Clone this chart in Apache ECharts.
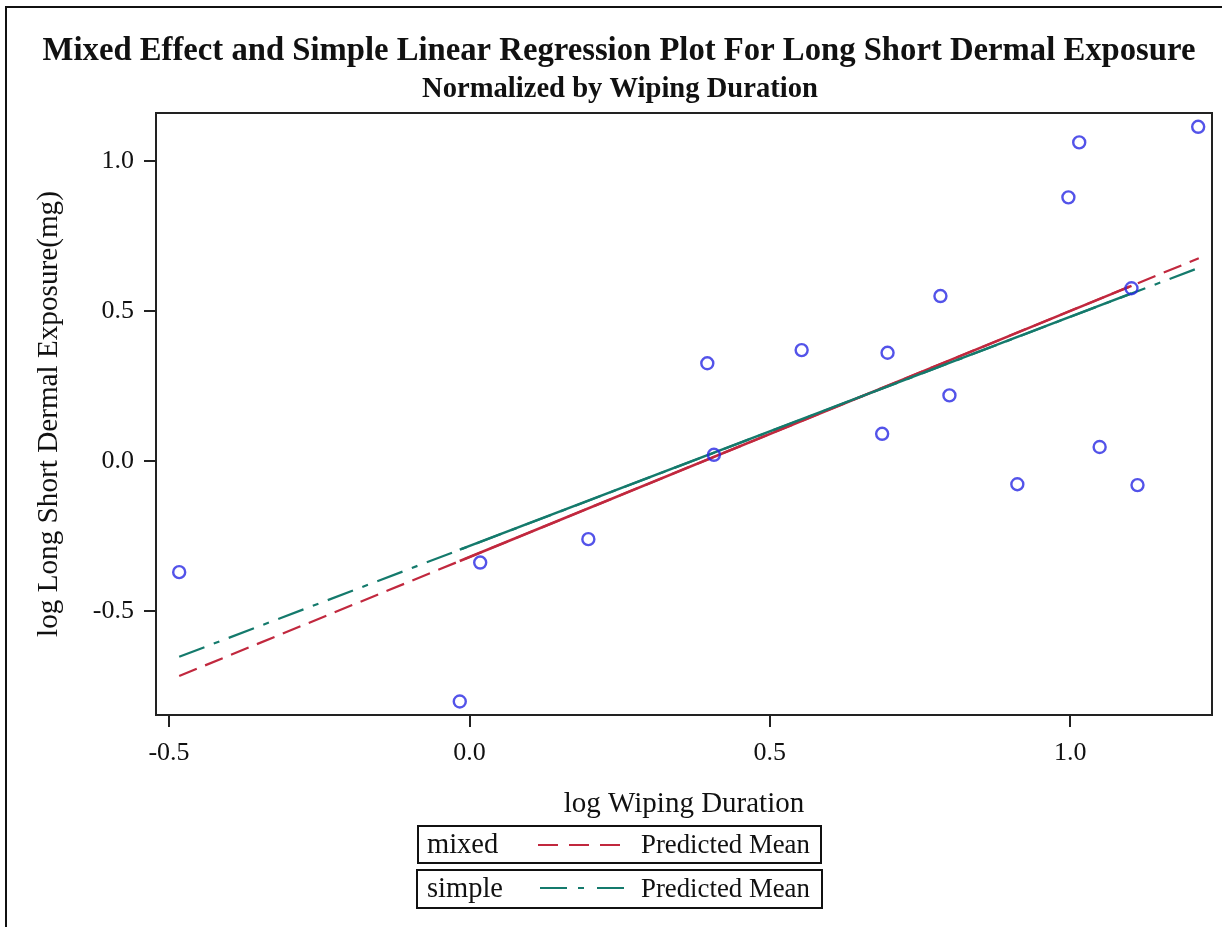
<!DOCTYPE html>
<html>
<head>
<meta charset="utf-8">
<script src="https://cdn.jsdelivr.net/npm/echarts@6/dist/echarts.min.js"></script>
<style>
html,body{margin:0;padding:0;background:#fff;}
#chart{width:1222px;height:927px;}
</style>
</head>
<body>
<div id="chart"></div>
<script>
// ---- data ----
const pointX = [-0.483, -0.016, 0.018, 0.198, 0.396, 0.407, 0.553, 0.687, 0.696, 0.784, 0.799, 0.912, 0.997, 1.015, 1.049, 1.102, 1.112, 1.213];
const pointY = [-0.371, -0.802, -0.339, -0.261, 0.325, 0.020, 0.369, 0.090, 0.360, 0.549, 0.218, -0.078, 0.878, 1.061, 0.046, 0.575, -0.081, 1.113];

const lineX = [-0.483, 1.214];           // full range of predicted lines (dashed)
const mixedY = [-0.717, 0.675];
const simpleY = [-0.653, 0.643];

const solidX = [-0.016, 1.102];          // range drawn solid (overlapping fits)
const mixedSolidY = [-0.334, 0.583];
const simpleSolidY = [-0.296, 0.558];

const xTicks = [-0.5, 0.0, 0.5, 1.0];
const yTicks = [-0.5, 0.0, 0.5, 1.0];

const titleText = 'Mixed Effect and Simple Linear Regression Plot For Long Short Dermal Exposure';
const subtitleText = 'Normalized by Wiping Duration';
const xName = 'log Wiping Duration';
const yName = 'log Long Short Dermal Exposure(mg)';
const legendGroups = ['mixed', 'simple'];
const legendLabel = 'Predicted Mean';

// ---- style ----
const FONT = '"Liberation Serif", "DejaVu Serif", serif';
const RED = '#C1283E';
const TEAL = '#147A6C';
const BLUE = '#2828E4';
const mixedDash = [19, 9];
const simpleDash = [27, 10, 6, 10];

const zip = (xs, ys) => xs.map((x, i) => [x, ys[i]]);

const chart = echarts.init(document.getElementById('chart'));
chart.setOption({
  animation: false,
  backgroundColor: '#fff',
  grid: {
    left: 156, top: 113, right: 10, bottom: 212,
    show: true, borderColor: '#222', borderWidth: 2, backgroundColor: '#fff'
  },
  xAxis: {
    type: 'value', min: -0.5216, max: 1.236,
    axisLine: { show: true, onZero: false, lineStyle: { color: '#222', width: 2 } },
    axisTick: { show: true, customValues: xTicks, length: 12, lineStyle: { color: '#222', width: 2 } },
    axisLabel: { customValues: xTicks, formatter: v => v.toFixed(1), fontFamily: FONT, fontSize: 26, color: '#111', margin: 25 },
    splitLine: { show: false },
    name: xName, nameLocation: 'middle', nameGap: 75,
    nameTextStyle: { fontFamily: FONT, fontSize: 29, color: '#111' }
  },
  yAxis: {
    type: 'value', min: -0.847, max: 1.159,
    axisLine: { show: true, onZero: false, lineStyle: { color: '#222', width: 2 } },
    axisTick: { show: true, customValues: yTicks, length: 12, lineStyle: { color: '#222', width: 2 } },
    axisLabel: { customValues: yTicks, formatter: v => v.toFixed(1), fontFamily: FONT, fontSize: 26, color: '#111', margin: 22 },
    splitLine: { show: false },
    name: yName, nameLocation: 'middle', nameGap: 92, nameRotate: 90,
    nameTextStyle: { fontFamily: FONT, fontSize: 29.2, color: '#111' }
  },
  series: [
    { type: 'line', data: zip(lineX, mixedY), showSymbol: false, symbol: 'none', silent: true,
      lineStyle: { color: RED, width: 2.2, type: mixedDash } },
    { type: 'line', data: zip(lineX, simpleY), showSymbol: false, symbol: 'none', silent: true,
      lineStyle: { color: TEAL, width: 2.2, type: simpleDash } },
    { type: 'line', data: zip(solidX, mixedSolidY), showSymbol: false, symbol: 'none', silent: true,
      lineStyle: { color: RED, width: 2.6, type: 'solid' } },
    { type: 'line', data: zip(solidX, simpleSolidY), showSymbol: false, symbol: 'none', silent: true,
      lineStyle: { color: TEAL, width: 2.6, type: 'solid' } },
    { type: 'scatter', data: zip(pointX, pointY), symbol: 'circle', symbolSize: 12, z: 5,
      itemStyle: { color: 'rgba(0,0,0,0)', borderColor: BLUE, borderWidth: 2.4 } }
  ],
  graphic: [
    { type: 'rect', shape: { x: 6, y: 7, width: 1240, height: 950 }, style: { fill: 'none', stroke: '#111', lineWidth: 2 }, silent: true },
    { type: 'text', x: 619, y: 52, style: { text: titleText, font: 'bold 32.7px ' + FONT, fill: '#111', textAlign: 'center', textVerticalAlign: 'middle' } },
    { type: 'text', x: 620, y: 90, style: { text: subtitleText, font: 'bold 28.6px ' + FONT, fill: '#111', textAlign: 'center', textVerticalAlign: 'middle' } },
    // legend box 1
    { type: 'rect', shape: { x: 418, y: 826, width: 403, height: 37 }, style: { fill: '#fff', stroke: '#111', lineWidth: 2 } },
    { type: 'text', x: 427, y: 846, style: { text: legendGroups[0], font: '28.5px ' + FONT, fill: '#111', textVerticalAlign: 'middle' } },
    { type: 'line', shape: { x1: 538, y1: 845, x2: 622, y2: 845 }, style: { stroke: RED, lineWidth: 2, lineDash: [20, 11] } },
    { type: 'text', x: 641, y: 846, style: { text: legendLabel, font: '26.8px ' + FONT, fill: '#111', textVerticalAlign: 'middle' } },
    // legend box 2
    { type: 'rect', shape: { x: 417, y: 870, width: 405, height: 38 }, style: { fill: '#fff', stroke: '#111', lineWidth: 2 } },
    { type: 'text', x: 427, y: 890, style: { text: legendGroups[1], font: '28.5px ' + FONT, fill: '#111', textVerticalAlign: 'middle' } },
    { type: 'line', shape: { x1: 540, y1: 888, x2: 630, y2: 888 }, style: { stroke: TEAL, lineWidth: 2, lineDash: [27, 11, 6, 13] } },
    { type: 'text', x: 641, y: 890, style: { text: legendLabel, font: '26.8px ' + FONT, fill: '#111', textVerticalAlign: 'middle' } }
  ]
});
</script>
</body>
</html>
